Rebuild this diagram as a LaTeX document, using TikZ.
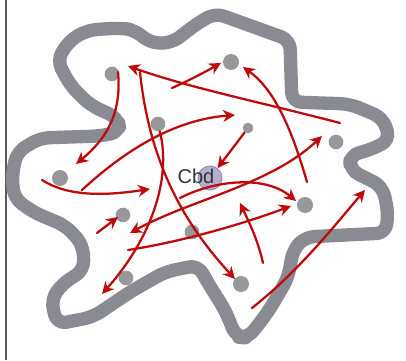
\documentclass[tikz,border=0pt]{standalone}
\usepackage{fontspec}
\setmainfont{Liberation Sans}
\usetikzlibrary{arrows.meta}
\definecolor{blobgray}{RGB}{138,138,146}
\definecolor{dotgray}{RGB}{152,152,154}
\definecolor{flowred}{RGB}{190,10,10}
\definecolor{cbdfill}{RGB}{182,174,206}
\definecolor{cbdedge}{RGB}{140,130,172}
\tikzset{
  stop/.style={circle,fill=dotgray,inner sep=0pt,minimum size=11pt},
  flow/.style={draw=flowred,line width=1.7pt,line cap=round,
    -{Stealth[length=9pt,width=9pt]}},
  twoflow/.style={flow,{Stealth[length=9pt,width=9pt]}-{Stealth[length=9pt,width=9pt]}}
}
\begin{document}
\begin{tikzpicture}[x=0.75pt,y=-0.75pt]
    \useasboundingbox (0,0) rectangle (406,360);
    \fill[white] (0,0) rectangle (406,360);
    \draw[line width=1.3pt,black!65] (6,0) -- (6,360);

    %the city edge, one thick gray band
    \draw[blobgray,line width=10pt,rounded corners=7pt,line join=round]
      (57,60) -- (70,40) -- (88,30) -- (120,28) -- (135,30) -- (150,43)
      -- (172,43) -- (195,25) -- (215,13) -- (240,22) -- (290,40)
      -- (291,75) -- (292,102) -- (350,104) -- (383,118) -- (390,140)
      -- (370,150) -- (350,155) -- (350,170) -- (382,186) -- (388,210)
      -- (386,233) -- (305,237) -- (293,250) -- (288,278) -- (268,312)
      -- (248,338) -- (236,337) -- (225,310) -- (208,283) -- (198,265)
      -- (165,272) -- (130,292) -- (93,317) -- (57,324) -- (51,300)
      -- (62,284) -- (84,270) -- (83,245) -- (66,226) -- (33,212)
      -- (14,198) -- (12,175) -- (17,152) -- (40,138) -- (100,136)
      -- (120,132) -- (118,118) -- (90,105) -- (70,85) -- cycle;

    %the places
    \node[stop] (n1) at (112,74) {};
    \node[stop] (n2) at (158,124) {};
    \node[stop,minimum size=12pt] (n3) at (231,62) {};
    \node[stop,minimum size=8pt] (n4) at (248,128) {};
    \node[stop] (n5) at (336,142) {};
    \node[stop,minimum size=12pt] (n6) at (60,178) {};
    \node[stop] (n7) at (123,215) {};
    \node[stop] (n8) at (192,232) {};
    \node[stop] (n9) at (126,278) {};
    \node[stop,minimum size=12pt] (n10) at (305,205) {};
    \node[stop,minimum size=12pt] (n11) at (241,284) {};
    \node[circle,fill=cbdfill,draw=cbdedge,line width=0.6pt,minimum size=18pt] (cbd) at (210,178) {};
    \node[text=black!80,font=\fontsize{15}{15}\selectfont] (cbdlabel) at (196,176) {Cbd};

    %ends of the flows
    \coordinate (a1) at (118,72);   \coordinate (a2) at (76,164);
    \coordinate (b1) at (340,123);  \coordinate (b2) at (128,66);
    \coordinate (c1) at (172,88);   \coordinate (c2) at (221,63);
    \coordinate (d2) at (102,294);
    \coordinate (e1) at (82,190);   \coordinate (e2) at (235,115);
    \coordinate (f1) at (307,182);  \coordinate (f2) at (243,67);
    \coordinate (g1) at (130,233);  \coordinate (g2) at (322,136);
    \coordinate (h1) at (180,198);  \coordinate (h2) at (296,201);
    \coordinate (i1) at (42,180);   \coordinate (i2) at (150,189);
    \coordinate (j1) at (97,233);   \coordinate (j2) at (118,217);
    \coordinate (m1) at (140,72);   \coordinate (m2) at (235,279);
    \coordinate (k1) at (128,250);  \coordinate (k2) at (291,206);
    \coordinate (o1) at (263,263);  \coordinate (o2) at (240,203);
    \coordinate (p1) at (252,308);  \coordinate (p2) at (365,190);

    %the flows
    \draw[flow] (a1) .. controls (122,115) and (105,140) .. (a2);
    \draw[flow] (b1) .. controls (260,102) and (190,88) .. (b2);
    \draw[flow] (c1) .. controls (190,80) and (205,72) .. (c2);
    \draw[flow] (n2) .. controls (172,180) and (150,240) .. (d2);
    \draw[flow] (e1) .. controls (120,155) and (170,120) .. (e2);
    \draw[flow] (f1) .. controls (292,130) and (275,90) .. (f2);
    \draw[twoflow] (g1) .. controls (190,200) and (270,185) .. (g2);
    \draw[flow] (h1) .. controls (215,180) and (265,175) .. (h2);
    \draw[flow] (i1) .. controls (70,198) and (110,195) .. (i2);
    \draw[flow] (j1) -- (j2);
    \draw[flow] (m1) .. controls (150,170) and (190,230) .. (m2);
    \draw[flow] (k1) .. controls (180,242) and (240,225) .. (k2);
    \draw[flow] (o1) .. controls (258,240) and (248,220) .. (o2);
    \draw[flow] (p1) .. controls (300,270) and (335,225) .. (p2);
    \draw[flow] (n4) -- (cbd);
\end{tikzpicture}
\end{document}
